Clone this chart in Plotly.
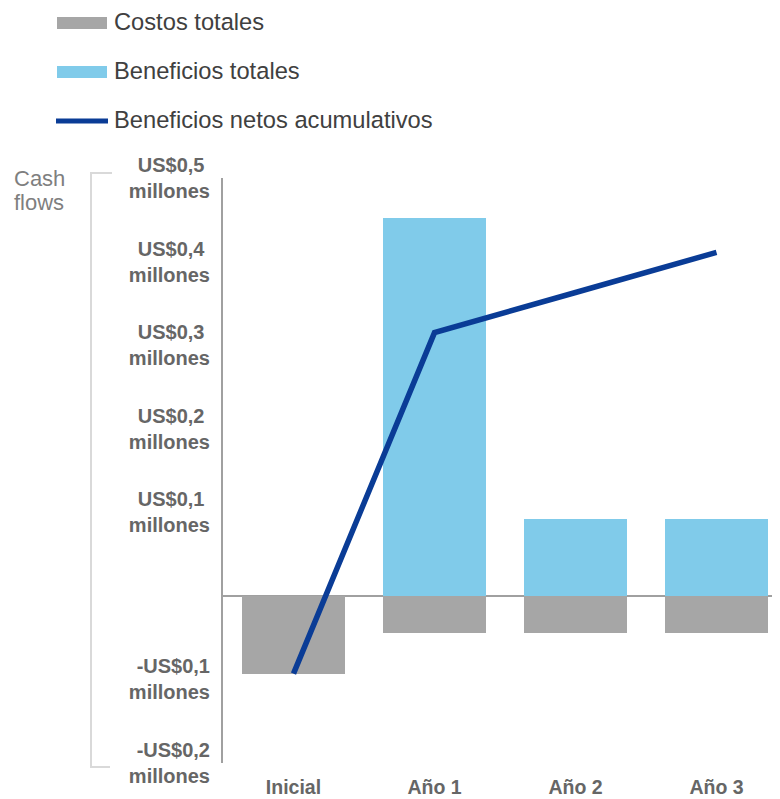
import plotly.graph_objects as go

categories = ["Inicial", "Año 1", "Año 2", "Año 3"]
costos_totales = [-0.093, -0.044, -0.044, -0.044]
beneficios_totales = [0.0, 0.452, 0.092, 0.092]
beneficios_netos_acumulativos = [-0.093, 0.315, 0.363, 0.411]

tick_vals = [0.5, 0.4, 0.3, 0.2, 0.1, -0.1, -0.2]
tick_text = ["US$0,5\u00a0<br>millones", "US$0,4\u00a0<br>millones", "US$0,3\u00a0<br>millones",
             "US$0,2\u00a0<br>millones", "US$0,1\u00a0<br>millones",
             "-US$0,1<br>millones", "-US$0,2<br>millones"]

legend_labels = ["Costos totales", "Beneficios totales", "Beneficios netos acumulativos"]

GRAY = "#A6A6A6"
LIGHT_BLUE = "#80CBEA"
DARK_BLUE = "#0A3C96"
TICK_GRAY = "#666666"
FONT = "Liberation Sans, Arial, sans-serif"

OFF = 8  # page body margin
W, H = 780, 799
L, R, T, B = 215, 1, 170, 44
PW, PH = W - L - R, H - T - B


def px(sx):
    return (sx - OFF - L) / PW


def py(sy):
    return (H - B - (sy - OFF)) / PH


fig = go.Figure()
fig.add_trace(go.Bar(x=categories, y=costos_totales, name=legend_labels[0],
                     marker=dict(color=GRAY, line=dict(width=0)), width=0.73,
                     showlegend=False, hoverinfo="skip"))
fig.add_trace(go.Bar(x=categories, y=beneficios_totales, name=legend_labels[1],
                     marker=dict(color=LIGHT_BLUE, line=dict(width=0)), width=0.73,
                     showlegend=False, hoverinfo="skip"))
fig.add_trace(go.Scatter(x=categories, y=beneficios_netos_acumulativos, name=legend_labels[2],
                         mode="lines", line=dict(color=DARK_BLUE, width=5.5),
                         showlegend=False, hoverinfo="skip"))

shapes = []
annotations = []

# Manual legend (wide swatches)
leg_y = [22, 71, 120]
shapes.append(dict(type="rect", xref="paper", yref="paper",
                   x0=px(57), x1=px(107), y0=py(17), y1=py(29),
                   fillcolor=GRAY, line=dict(width=0)))
shapes.append(dict(type="rect", xref="paper", yref="paper",
                   x0=px(57), x1=px(107), y0=py(66), y1=py(78),
                   fillcolor=LIGHT_BLUE, line=dict(width=0)))
shapes.append(dict(type="line", xref="paper", yref="paper",
                   x0=px(56), x1=px(108), y0=py(121), y1=py(121),
                   line=dict(color=DARK_BLUE, width=5)))
for lab, yy in zip(legend_labels, leg_y):
    annotations.append(dict(text=lab, xref="paper", yref="paper", x=px(112), y=py(yy),
                            xanchor="left", yanchor="middle", showarrow=False,
                            font=dict(family=FONT, size=23.7, color="#404040")))

# "Cash flows" label
annotations.append(dict(text="Cash", xref="paper", yref="paper", x=px(12), y=py(178),
                        xanchor="left", yanchor="middle", showarrow=False,
                        font=dict(family=FONT, size=22, color="#7F7F7F")))
annotations.append(dict(text="flows", xref="paper", yref="paper", x=px(12), y=py(203),
                        xanchor="left", yanchor="middle", showarrow=False,
                        font=dict(family=FONT, size=22, color="#7F7F7F")))

# Bracket
shapes.append(dict(type="path", xref="paper", yref="paper",
                   path=f"M {px(112)},{py(173)} L {px(91)},{py(173)} L {px(91)},{py(767)} L {px(110)},{py(767)}",
                   line=dict(color="#D9D9D9", width=2)))

fig.update_layout(
    width=W, height=H,
    margin=dict(l=L, r=R, t=T, b=B),
    plot_bgcolor="white", paper_bgcolor="white",
    barmode="relative", bargap=0,
    showlegend=False,
    shapes=shapes, annotations=annotations,
    font=dict(family=FONT),
)
fig.update_xaxes(type="category", range=[-0.5, 3.5], showgrid=False, zeroline=False,
                 showline=False, ticks="", ticklabelstandoff=10,
                 tickfont=dict(family=FONT, size=19.5, color=TICK_GRAY, weight="bold"))
fig.update_yaxes(range=[-0.2, 0.5], tickvals=tick_vals, ticktext=tick_text,
                 showgrid=False, zeroline=True, zerolinecolor="#A0A0A0", zerolinewidth=1.5,
                 showline=True, linecolor="#A0A0A0", linewidth=2, ticks="",
                 ticklabelstandoff=7, layer="above traces",
                 tickfont=dict(family=FONT, size=20, color=TICK_GRAY, weight="bold"))

fig.write_html("out.html")
